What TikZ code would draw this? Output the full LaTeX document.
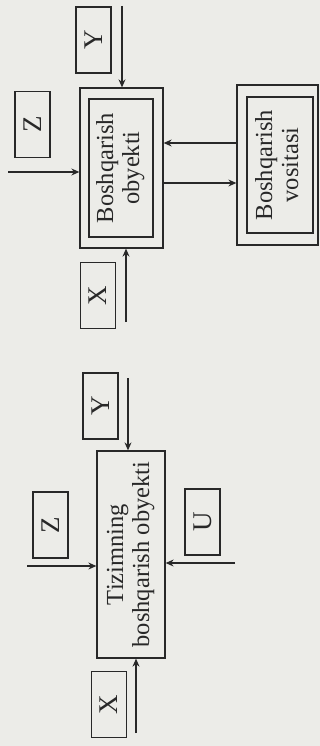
\documentclass[tikz,border=0pt]{standalone}
\usepackage{fontspec}
\setmainfont{Liberation Serif}
\usepackage{xcolor}
\usetikzlibrary{arrows.meta}
\definecolor{inkgray}{RGB}{40,40,40}
\definecolor{papergray}{RGB}{236,236,232}

\begin{document}
\begin{tikzpicture}[x=1pt, y=-1pt,
		box/.style={draw=inkgray, line width=1.3pt, inner sep=0pt, text=inkgray,
			font=\fontsize{24.5}{26}\selectfont},
		letter/.style={box, minimum width=35pt, minimum height=66pt,
			font=\fontsize{27}{28}\selectfont},
		arrow/.style={-{Stealth[length=8pt, width=7pt]}, line width=1.1pt, draw=inkgray}
	]
		\fill[papergray] (0,0) rectangle (320,746);
		\useasboundingbox (0,0) rectangle (320,746);
		% upper scheme
		\node[box, minimum width=83pt, minimum height=160pt] (obj) at (121.5,168) {};
		\node[box, minimum width=64pt, minimum height=138pt] (objin) at (121,168)
			{\rotatebox{90}{\begin{tabular}{@{}c@{}}Boshqarish\\obyekti\end{tabular}}};
		\node[box, minimum width=81pt, minimum height=160pt] (vos) at (277.5,165) {};
		\node[box, minimum width=66pt, minimum height=136pt] (vosin) at (280,165)
			{\rotatebox{90}{\begin{tabular}{@{}c@{}}Boshqarish\\vositasi\end{tabular}}};
		% lower scheme
		\node[box, minimum width=68pt, minimum height=207pt] (sys) at (131,554.5)
			{\rotatebox{90}{\begin{tabular}{@{}c@{}}Tizimning\\boshqarish obyekti\end{tabular}}};
		% input letters
		\foreach \nm/\px/\py/\lab in {y1b/93.5/40/Y, z1b/32.5/124.5/Z, x1b/98/295.5/X,
			y2b/100.5/406/Y, z2b/50.5/525/Z, ub/202.5/522/U, x2b/109/704.5/X}
			\node[letter] (\nm) at (\px,\py) {\rotatebox{90}{\lab}};
		\coordinate (y1) at (122,6);
		\coordinate (z1) at (8,172);
		\coordinate (x1) at (126,322);
		\coordinate (y2) at (128,378);
		\coordinate (z2) at (27,566);
		\coordinate (u2) at (235,563);
		\coordinate (x2) at (136,733);
		\draw[arrow] (y1) -- (y1 |- obj.north);
		\draw[arrow] (z1) -- (z1 -| obj.west);
		\draw[arrow] (x1) -- (x1 |- obj.south);
		\draw[arrow] ([yshift=22pt]vos.west) -- ([yshift=22pt]vos.west -| obj.east);
		\draw[arrow] ([yshift=-15pt]obj.east) -- ([yshift=-15pt]obj.east -| vos.west);
		\draw[arrow] (y2) -- (y2 |- sys.north);
		\draw[arrow] (z2) -- (z2 -| sys.west);
		\draw[arrow] (u2) -- (u2 -| sys.east);
		\draw[arrow] (x2) -- (x2 |- sys.south);
	\end{tikzpicture}
\end{document}
